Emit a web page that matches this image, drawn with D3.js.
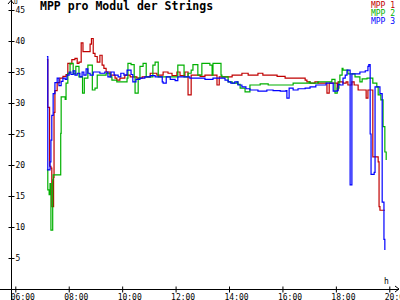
<!DOCTYPE html>
<html>
<head>
<meta charset="utf-8">
<script src="https://cdn.jsdelivr.net/npm/d3@7"></script>
<style>
  body { margin: 0; background: #fff; }
  svg { display: block; }
  text { font-family: "DejaVu Sans Mono", monospace; }
</style>
</head>
<body>
<svg id="chart" width="400" height="300"></svg>
<script>
// MPP pro Modul der Strings - one series per string
var mpp1Times = ["07:11","07:13","07:17","07:20","07:22","07:26","07:27","07:29","07:34","07:40","07:47","07:54","07:58","08:03","08:07","08:14","08:19","08:23","08:28","08:32","08:41","08:48","08:51","08:55","08:59","09:04","09:10","09:15","09:19","09:24","09:33","09:44","09:48","09:55","10:06","10:18","10:33","10:45","11:03","11:18","11:32","11:43","11:52","12:03","12:10","12:21","12:28","12:35","12:46","12:55","13:06","13:26","13:33","13:38","13:51","14:07","14:29","14:43","15:05","15:16","15:48","16:06","16:33","16:51","16:55","17:02","17:13","17:20","17:40","17:45","18:03","18:05","18:16","18:23","18:27","18:36","18:41","18:50","19:08","19:12","19:23","19:35","19:37","19:39","19:50"];
var mpp1Values = [37.0,29.3,19.8,19.5,13.3,18.0,28.5,32.0,33.3,34.0,34.3,34.6,36.4,36.3,37.0,37.2,36.4,36.6,39.7,38.3,38.3,39.5,40.4,38.0,37.5,36.6,37.7,36.1,35.6,35.0,34.5,34.0,33.7,34.0,34.5,34.2,34.0,34.2,34.8,34.5,35.0,34.8,34.4,35.0,34.4,35.0,31.3,34.5,34.5,34.3,34.5,34.5,32.9,34.2,34.2,34.5,34.8,34.5,34.8,34.5,34.3,34.0,34.0,33.7,33.4,33.2,33.4,33.2,31.6,33.2,32.1,33.4,33.2,33.4,32.9,33.4,32.9,32.1,30.8,32.1,21.3,20.5,13.3,12.7,12.7];

var mpp2Times = ["07:11","07:13","07:16","07:18","07:20","07:24","07:25","07:40","07:42","07:43","07:52","07:54","07:58","08:03","08:10","08:16","08:23","08:31","08:35","08:43","08:53","08:59","09:04","09:17","09:24","09:33","09:37","09:48","10:09","10:11","10:13","10:20","10:27","10:29","10:36","10:40","10:47","10:54","11:09","11:14","11:21","12:05","12:19","12:28","12:35","12:39","12:50","12:59","13:17","13:22","13:24","13:42","13:44","13:58","14:07","14:18","14:20","14:25","14:36","14:47","15:10","15:28","16:06","16:24","17:00","17:02","17:20","17:40","17:51","17:58","18:03","18:07","18:09","18:14","18:16","18:27","18:43","18:54","18:59","19:10","19:23","19:32","19:35","19:41","19:46","19:50","19:53"];
var mpp2Values = [19.2,16.0,15.2,17.0,9.5,17.6,18.4,18.4,25.1,31.0,30.6,33.2,34.8,36.4,34.7,35.9,34.2,31.6,34.0,36.1,32.1,32.4,34.5,34.5,34.8,34.2,33.7,33.4,33.4,34.0,36.4,36.2,34.2,31.6,34.0,35.9,36.4,34.2,36.1,36.6,34.2,36.1,34.2,34.8,35.3,36.2,34.5,36.4,36.1,34.5,36.4,34.5,34.2,33.4,33.2,33.4,33.0,32.4,31.8,32.9,33.1,32.9,32.9,33.2,33.4,33.2,33.4,33.4,33.8,31.6,32.4,33.4,34.5,35.6,35.3,34.7,34.2,33.4,33.9,34.0,33.2,32.6,31.3,30.5,26.2,22.1,20.8];

var mpp3Times = ["07:11","07:13","07:18","07:20","07:22","07:25","07:29","07:34","07:38","07:43","07:47","07:52","07:56","08:01","08:05","08:10","08:14","08:19","08:25","08:30","08:34","08:39","08:43","08:48","08:55","09:10","09:21","09:28","09:35","09:42","09:51","09:57","10:04","10:11","10:20","10:24","10:31","10:40","10:51","11:03","11:14","11:30","11:32","11:39","11:48","11:59","12:05","12:32","13:06","13:24","13:40","13:51","13:58","14:04","14:13","14:20","14:29","14:38","14:47","15:05","15:25","15:39","15:55","16:08","16:10","16:15","16:24","16:35","16:51","17:02","17:15","17:29","17:38","17:54","18:03","18:05","18:09","18:16","18:21","18:25","18:32","18:36","18:54","19:06","19:12","19:14","19:17","19:19","19:26","19:28","19:39","19:44","19:48","19:50"];
var mpp3Values = [37.5,19.2,20.5,24.0,28.0,31.5,33.3,34.0,32.8,33.5,34.0,33.8,34.5,35.0,34.6,35.2,34.5,34.8,34.2,35.0,34.5,35.5,34.8,34.5,35.0,34.8,35.0,34.2,35.0,34.5,34.2,34.8,34.5,35.3,34.6,33.4,33.8,34.0,34.2,34.4,34.2,33.4,33.2,34.2,33.8,33.6,34.2,34.0,33.8,34.0,34.0,33.7,33.4,33.2,33.4,32.9,32.6,32.3,32.1,31.9,32.1,32.0,31.9,32.0,30.8,32.4,32.1,32.3,32.4,32.6,32.9,32.9,33.2,31.9,32.0,33.0,32.9,34.0,34.5,35.3,16.8,34.7,35.0,35.2,35.9,36.2,25.0,18.5,18.8,32.6,31.5,14.0,8.0,6.3];

var seriesNames = ["MPP 1", "MPP 2", "MPP 3"];
var seriesColors = ["#c00000", "#00b000", "#0000ff"];
var yTicks = [5, 10, 15, 20, 25, 30, 35, 40, 45];
var xStart = "06:00", xEnd = "20:00";

var parseTime = d3.timeParse("%H:%M");
var series = [
  { name: seriesNames[0], color: seriesColors[0], times: mpp1Times, values: mpp1Values },
  { name: seriesNames[1], color: seriesColors[1], times: mpp2Times, values: mpp2Values },
  { name: seriesNames[2], color: seriesColors[2], times: mpp3Times, values: mpp3Values }
];

var svg = d3.select("#chart");

var x = d3.scaleTime()
    .domain([parseTime(xStart), parseTime(xEnd)])
    .range([15.3, 389.3]);

var y = d3.scaleLinear()
    .domain([0, 45])
    .range([289, 10]);

var x0 = 11, y0 = y(0);

// axis lines with arrows
svg.append("line").attr("x1", x0).attr("x2", x0).attr("y1", 300).attr("y2", 0)
    .attr("stroke", "#000").attr("shape-rendering", "crispEdges");
svg.append("line").attr("x1", 0).attr("x2", 399).attr("y1", y0).attr("y2", y0)
    .attr("stroke", "#000").attr("shape-rendering", "crispEdges");
svg.append("path").attr("d", "M8,4L11,0.5L14,4").attr("fill", "none").attr("stroke", "#000");
svg.append("path").attr("d", "M395,286L399,289L395,292").attr("fill", "none").attr("stroke", "#000");

// y axis, ticks crossing the line
var gy = svg.append("g")
    .attr("transform", "translate(" + (x0 + 0.5) + ",0)")
    .call(d3.axisRight(y).tickValues(yTicks).tickSize(3).tickPadding(1));
gy.select(".domain").remove();
gy.selectAll(".tick line").attr("x1", -3).attr("x2", 3).attr("stroke", "#000");
gy.selectAll(".tick text").attr("font-family", "DejaVu Sans Mono, monospace")
    .attr("font-size", 8).attr("fill", "#000");

// x axis
var gx = svg.append("g")
    .attr("transform", "translate(0," + (y0 + 0.5) + ")")
    .call(d3.axisBottom(x).ticks(d3.timeHour.every(2)).tickFormat(d3.timeFormat("%H:%M"))
        .tickSize(3).tickPadding(1.5));
gx.select(".domain").remove();
gx.selectAll(".tick line").attr("y1", -3).attr("y2", 3).attr("stroke", "#000");
gx.selectAll(".tick text").attr("font-family", "DejaVu Sans Mono, monospace")
    .attr("font-size", 8).attr("fill", "#000")
    .attr("text-anchor", "start").attr("dx", -5);

// unit labels
svg.append("text").attr("x", 14).attr("y", 4).attr("font-size", 6).text("U");
svg.append("text").attr("x", 384).attr("y", 284).attr("font-size", 8).text("h");

// lines
var line = d3.line()
    .curve(d3.curveStepAfter)
    .x(function (d) { return x(d.t); })
    .y(function (d) { return y(d.v); });

svg.selectAll("path.series")
    .data(series)
    .enter()
    .append("path")
    .attr("class", "series")
    .attr("fill", "none")
    .attr("stroke", function (d) { return d.color; })
    .attr("stroke-width", 1.2)
    .attr("d", function (d) {
        return line(d.times.map(function (t, i) {
            return { t: parseTime(t), v: d.values[i] };
        }));
    });

// title
svg.append("text")
    .attr("x", 40).attr("y", 10)
    .attr("font-size", 11.5).attr("font-weight", "bold")
    .text("MPP pro Modul der Strings");

// legend
svg.selectAll("text.legend")
    .data(series)
    .enter()
    .append("text")
    .attr("class", "legend")
    .attr("x", 395)
    .attr("y", function (d, i) { return 7.5 + i * 8; })
    .attr("text-anchor", "end")
    .attr("font-size", 8)
    .attr("fill", function (d) { return d.color; })
    .text(function (d) { return d.name; });
</script>
</body>
</html>
